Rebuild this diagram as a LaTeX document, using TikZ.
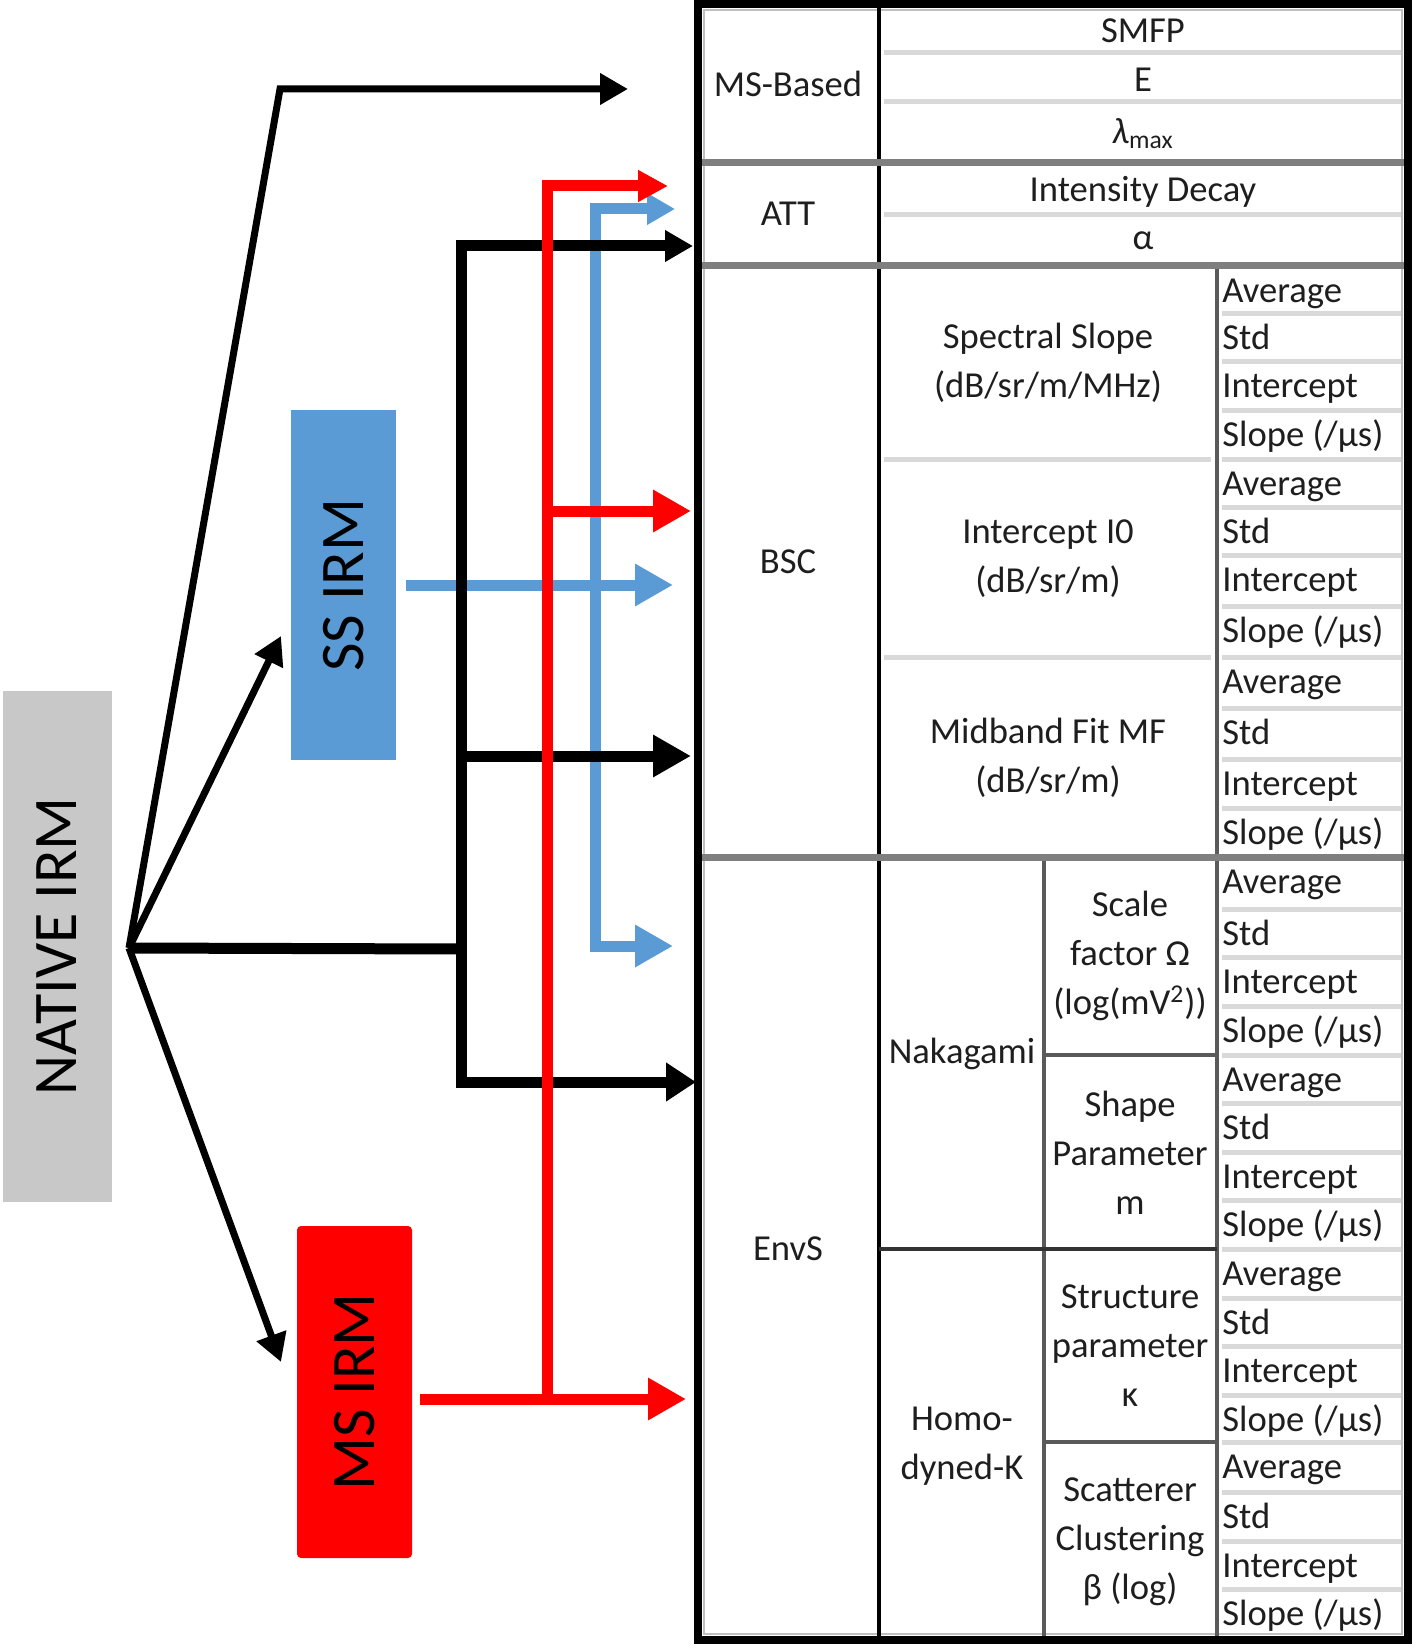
\documentclass[tikz,border=0pt]{standalone}
\usepackage{fontspec}
\usepackage{graphicx}
\setmainfont{Carlito}
\usetikzlibrary{arrows.meta}
\definecolor{ssblue}{HTML}{5B9BD5}
\definecolor{msred}{HTML}{FF0000}
\definecolor{natgrey}{HTML}{C8C8C8}
\definecolor{divgrey}{HTML}{7F7F7F}
\definecolor{sepgrey}{HTML}{D9D9D9}
\definecolor{colgrey}{HTML}{5A5A5A}
\definecolor{txt}{HTML}{1E1E1E}
\newcommand{\boxfont}{\fontsize{31}{36}\selectfont}
\newcommand{\slopetxt}{Slope (/µs)}
\tikzset{
  smallhead/.tip={Triangle[length=14pt,width=15pt]},
  bighead/.tip={Triangle[length=19pt,width=20pt]},
  tfont/.style={font=\fontsize{18.3}{24.5}\selectfont, text=txt, inner sep=0pt},
  ccell/.style={tfont, align=center, anchor=center},
  rcell/.style={tfont, anchor=base west},
  thinblk/.style={line width=3.5pt, black},
  thickblk/.style={line width=5.5pt, black},
  redline/.style={line width=5.5pt, msred},
  blueline/.style={line width=5.5pt, ssblue},
  sepline/.style={line width=2.5pt, sepgrey},
  divline/.style={line width=3.5pt, divgrey},
  colline/.style={line width=2pt, colgrey},
  boxnode/.style={inner sep=0pt, text=black}
}
\begin{document}
\begin{tikzpicture}[x=0.5pt,y=-0.5pt]
\useasboundingbox (0,0) rectangle (1416,1648);

% ---------- TABLE ----------
% light separators
\foreach \y in {53,102,215}{\draw[sepline] (884,\y) -- (1402,\y);}
\foreach \y in {459,657}{\draw[sepline] (884,\y) -- (1211,\y);}
\foreach \y in {313,361,410,459,507,555,606,657,708,759,808,
                909,957,1006,1055,1103,1152,1200,1249,1298,1346,1395,1442,1492,1541,1589}
  {\draw[sepline] (1222,\y) -- (1402,\y);}
% inner thin frame
\draw[line width=0.8pt, gray!50] (704,10) rectangle (1402,1634);
% column lines
\draw[line width=2.3pt, black] (879,4) -- (879,1640);
\draw[colline] (1217,266) -- (1217,1640);
\draw[colline] (1044,857) -- (1044,1640);
\draw[line width=2pt, black!80] (879,1249) -- (1217,1249);
\draw[colline] (1044,1055) -- (1217,1055);
\draw[colline] (1044,1442) -- (1217,1442);
% main dividers
\foreach \y in {163,266,857}{\draw[divline] (698,\y) -- (1408,\y);}
% outer border
\draw[line width=4pt, black] (698,4) rectangle (1408,1640);

% table texts
\node[ccell] (msb) at (788,84) {MS-Based};
\node[ccell] (att) at (788,214) {ATT};
\node[ccell] (bsc) at (788,562) {BSC};
\node[ccell] (envs) at (788,1249) {EnvS};
\node[ccell] (smfp) at (1143,31) {SMFP};
\node[ccell] (e) at (1143,80) {E};
\node[ccell] (lmax) at (1143,134) {\textit{λ}\textsubscript{max}};
\node[ccell] (idec) at (1143,192) {Intensity Decay};
\node[ccell] (alpha) at (1143,241) {α};
\node[ccell] (ss1) at (1048,363) {Spectral Slope\\(dB/sr/m/MHz)};
\node[ccell] (ss2) at (1048,559) {Intercept I0\\(dB/sr/m)};
\node[ccell] (ss3) at (1048,758) {Midband Fit MF\\(dB/sr/m)};
\node[ccell] (naka) at (962,1054) {Nakagami};
\node[ccell] (hk) at (962,1446) {Homo-\\dyned-K};
\node[ccell] (p1) at (1130,956) {Scale\\factor Ω\\(log(mV\textsuperscript{2}))};
\node[ccell] (p2) at (1130,1153) {Shape\\Parameter\\m};
\node[ccell] (p3) at (1130,1346) {Structure\\parameter\\κ};
\node[ccell] (p4) at (1130,1542) {Scatterer\\Clustering\\β (log)};
% right column labels
\foreach \y/\t [count=\i] in {
  266/Average,313/Std,361/Intercept,410/\slopetxt,
  459/Average,507/Std,555/Intercept,606/\slopetxt,
  657/Average,708/Std,759/Intercept,808/\slopetxt}
  {\node[rcell] (b\i) at (1222,\y+36) {\t};}
\foreach \y/\t [count=\i] in {
  857/Average,909/Std,957/Intercept,1006/\slopetxt,
  1055/Average,1103/Std,1152/Intercept,1200/\slopetxt,
  1249/Average,1298/Std,1346/Intercept,1395/\slopetxt,
  1442/Average,1492/Std,1541/Intercept,1589/\slopetxt}
  {\node[rcell] (n\i) at (1222,\y+36) {\t};}

% ---------- BOXES ----------
\node[boxnode, fill=natgrey, minimum width=54.5pt, minimum height=255.5pt] (native) at (57,946.5)
  {\rotatebox{90}{\boxfont NATIVE IRM}};
\node[boxnode, fill=ssblue, minimum width=52.5pt, minimum height=175pt] (ss) at (343.5,585)
  {\rotatebox{90}{\boxfont SS IRM}};
\node[boxnode, fill=msred, rounded corners=2pt, minimum width=57.5pt, minimum height=166pt] (ms) at (354.5,1392)
  {\rotatebox{90}{\boxfont MS IRM}};

% ---------- COORDINATES ----------
\coordinate (o) at (129,948);
\coordinate (k1) at (280,89);
\coordinate (t1) at (628,89);
\coordinate (tss) at (281,636);
\coordinate (tms) at (281,1362);
\coordinate (jb) at (461,949);
\coordinate (jbt) at (461,246);
\coordinate (jbb) at (461,1082);
\coordinate (jbm) at (461,756);
\coordinate (tbt) at (693,246);
\coordinate (tbm) at (691,756);
\coordinate (tbb) at (696,1082);
\coordinate (rs) at (420,1399);
\coordinate (rj) at (547,1399);
\coordinate (rt) at (547,186);
\coordinate (trt) at (668,186);
\coordinate (rm) at (547,511);
\coordinate (trm) at (691,511);
\coordinate (trb) at (686,1399);
\coordinate (bs) at (406,585);
\coordinate (tbs) at (673,585);
\coordinate (bt) at (595,209);
\coordinate (tbt2) at (675,209);
\coordinate (bb) at (595,946);
\coordinate (tbb2) at (673,946);

% ---------- CONNECTORS ----------
% blue
\draw[blueline, smallhead-bighead] (tbt2) -- (bt) -- (bb) -- (tbb2);
\draw[blueline, -bighead] (bs) -- (tbs);
% black
\draw[thinblk, -smallhead] (o) -- (k1) -- (t1);
\draw[thinblk, -smallhead] (o) -- (tss);
\draw[thinblk, -smallhead] (o) -- (tms);
\draw[thickblk] (o) -- (jb);
\draw[thickblk, smallhead-{Triangle[length=15pt,width=18.5pt]}] (tbt) -- (jbt) -- (jbb) -- (tbb);
\draw[thickblk, -bighead] (jbm) -- (tbm);
% red
\draw[redline, {Triangle[length=15pt,width=15pt]}-] (trt) -- (rt) -- (rj);
\draw[redline, -bighead] (rm) -- (trm);
\draw[redline, -bighead] (rs) -- (trb);
\end{tikzpicture}
\end{document}
